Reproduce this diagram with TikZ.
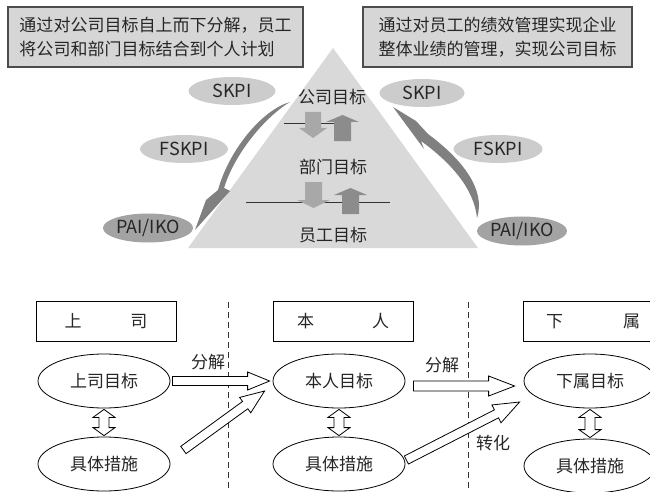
\documentclass[tikz,border=0pt]{standalone}
\usepackage{fontspec}
\setmainfont{Noto Sans CJK SC}
\usetikzlibrary{shapes.geometric,calc}
\definecolor{boxgray}{gray}{0.84}
\definecolor{trigray}{gray}{0.85}
\definecolor{ellgray}{gray}{0.80}
\definecolor{darkell}{gray}{0.64}
\definecolor{curvegray}{gray}{0.50}
\definecolor{downgray}{gray}{0.66}
\definecolor{upgray}{gray}{0.55}
\newcommand\hollowarrow[5]{%
  \coordinate (ha-s) at (#1);
  \coordinate (ha-e) at (#2);
  \coordinate (ha-b) at ($(ha-e)!#5pt!(ha-s)$);
  \draw[hollow] ($(ha-s)!#3pt!90:(ha-e)$) -- ($(ha-b)!#3pt!-90:(ha-s)$) -- ($(ha-b)!#4pt!-90:(ha-s)$) -- (ha-e) -- ($(ha-b)!#4pt!90:(ha-s)$) -- ($(ha-b)!#3pt!90:(ha-s)$) -- ($(ha-s)!#3pt!-90:(ha-e)$) -- cycle;
}
\newcommand\vdarrow[2]{%
  \draw[hollow] (#1) -- ++(11,8) -- ++(-6,0) -- ($(#2)+(5,-8)$) -- ++(6,0) -- (#2) -- ++(-11,-8) -- ++(6,0) -- ($(#1)+(-5,8)$) -- ++(-6,0) -- cycle;
}
\begin{document}
\begin{tikzpicture}[x=1pt,y=-1pt,
  every node/.style={font=\fontsize{17}{24}\selectfont, text=black!85, inner sep=0pt},
  topbox/.style={draw=black!70, line width=1.2pt, fill=boxgray, minimum height=60pt, align=left},
  sell/.style={ellipse, fill=ellgray, minimum width=87pt, minimum height=28pt, font=\fontsize{18}{20}\selectfont},
  dell/.style={ellipse, fill=darkell, minimum width=90pt, minimum height=29pt, font=\fontsize{18}{20}\selectfont},
  bell/.style={ellipse, draw, line width=0.8pt, minimum width=132pt, minimum height=54pt, fill=white},
  rolebox/.style={draw, line width=0.8pt, minimum width=140pt, minimum height=40pt},
  hollow/.style={draw, line width=0.8pt, fill=white, line join=miter},
  lbl/.style={},
  divider/.style={draw=black!80, line width=0.8pt, dash pattern=on 6pt off 4pt}
]
\clip (0,0) rectangle (650,492);
\fill[white] (0,0) rectangle (650,492);

% pyramid
\fill[trigray] (188,248) -- (333,48) -- (478,248) -- cycle;
\draw[line width=0.8pt, black!80] (284,123) -- (345,123);
\draw[line width=0.8pt, black!80] (246,202) -- (390,202);
\fill[downgray] (305,112) -- (321,112) -- (321,128) -- (327,128) -- (313,138) -- (299,128) -- (305,128) -- cycle;
\fill[upgray] (334,141) -- (351,141) -- (351,122) -- (359,122) -- (342.5,115) -- (326,122) -- (334,122) -- cycle;
\fill[downgray] (305,182) -- (322,182) -- (322,200) -- (330,200) -- (313.5,208) -- (297,200) -- (305,200) -- cycle;
\fill[upgray] (342,214) -- (359,214) -- (359,195) -- (367,195) -- (350.5,188) -- (334,195) -- (342,195) -- cycle;
\node (pc) at (332,97) {公司目标};
\node (pd) at (333,167) {部门目标};
\node (pe) at (333,235) {员工目标};

% top boxes
\node[topbox, minimum width=295pt] (tl) at (155.5,37) {通过对公司目标自上而下分解，员工\\将公司和部门目标结合到个人计划};
\node[topbox, minimum width=269pt] (tr) at (497.5,37) {通过对员工的绩效管理实现企业\\整体业绩的管理，实现公司目标};

% side ellipses
\node[sell] (sl1) at (232,91) {SKPI};
\node[sell, minimum width=88pt] (sl2) at (184,149) {FSKPI};
\node[dell] (sl3) at (148,228) {PAI/IKO};
\node[sell, minimum width=85pt] (sr1) at (422,93) {SKPI};
\node[sell, minimum width=89pt] (sr2) at (498,149) {FSKPI};
\node[dell] (sr3) at (522,231) {PAI/IKO};

% curved arrows
\fill[curvegray] (290,102) .. controls (262,110) and (229,150) .. (218,190) -- (206,200) -- (195,230) -- (230,191) -- (224,188) .. controls (236,150) and (268,115) .. (290,102) -- cycle;
\fill[curvegray] (477,218) .. controls (486,190) and (463,160) .. (428,134) -- (416,121) -- (393,107) -- (424,149) -- (421,141) .. controls (450,162) and (474,188) .. (477,218) -- cycle;

% bottom part
\draw[divider] (228,302) -- (228,492);
\draw[divider] (468,302) -- (468,492);

\node[rolebox] (r1) at (106,321) {上\hspace{49pt}司};
\node[rolebox] (r2) at (343,321) {本\hspace{58pt}人};
\node[rolebox] (r3) at (593,321) {下\hspace{60pt}属};

\node[bell] (g1) at (104,381) {上司目标};
\node[bell] (m1) at (104,464) {具体措施};
\node[bell] (g2) at (339,381) {本人目标};
\node[bell] (m2) at (339,464) {具体措施};
\node[bell] (g3) at (590,381) {下属目标};
\node[bell] (m3) at (590,466) {具体措施};

\vdarrow{$(g1.south)+(0,1)$}{$(m1.north)+(0,-1)$}
\vdarrow{$(g2.south)+(0,1)$}{$(m2.north)+(0,-1)$}
\vdarrow{$(g3.south)+(0,1)$}{$(m3.north)+(0,-1)$}

\coordinate (a1s) at ($(g1.east)+(2,0)$);
\coordinate (a1e) at ($(g2.west)+(-3,0)$);
\coordinate (a2s) at ($(g2.east)+(8,5)$);
\coordinate (a2e) at ($(g3.west)+(-9,5)$);
\coordinate (d1s) at ($(m1.east)+(13,-14)$);
\coordinate (d1e) at ($(g2.west)+(-8,10)$);
\coordinate (d2s) at ($(m2.east)+(1,-4)$);
\coordinate (d2e) at ($(g3.west)+(-4,21)$);
\hollowarrow{a1s}{a1e}{4.5}{9}{22}
\hollowarrow{a2s}{a2e}{5}{10}{26}
\hollowarrow{d1s}{d1e}{4.5}{9.5}{24}
\hollowarrow{d2s}{d2e}{4.5}{10}{26}

\node[lbl] (l1) at (208,362) {分解};
\node[lbl] (l2) at (442,365) {分解};
\node[lbl] (l3) at (493,443) {转化};
\end{tikzpicture}
\end{document}
